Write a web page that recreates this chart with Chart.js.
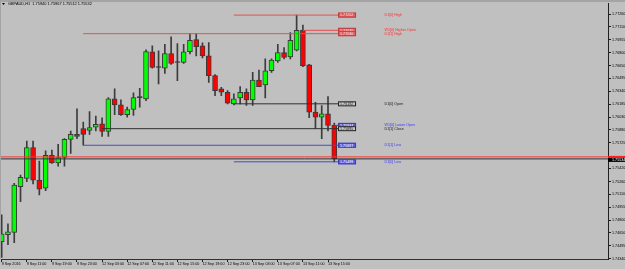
<!DOCTYPE html>
<html><head><meta charset="utf-8">
<script src="https://cdn.jsdelivr.net/npm/chart.js@4"></script>
<style>html,body{margin:0;padding:0;background:#c0c0c0;overflow:hidden}#wrap{width:625px;height:269px}</style>
</head><body><div id="wrap"><canvas id="c" width="625" height="269"></canvas></div>
<script>
// ---------- data ----------
const symbolTitle = "GBPAUD,H1  1.75940 1.75967 1.75512 1.75532";
const timeLabels = ["9 Sep 2016","9 Sep 11:00","9 Sep 19:00","9 Sep 23:00","12 Sep 03:00","12 Sep 07:00","12 Sep 11:00","12 Sep 15:00","12 Sep 19:00","12 Sep 23:00","13 Sep 03:00","13 Sep 07:00","13 Sep 11:00","13 Sep 15:00"];
const priceTicks = [1.77260,1.77110,1.76955,1.76800,1.76650,1.76495,1.76340,1.76185,1.76030,1.75880,1.75725,1.75420,1.75260,1.75110,1.74955,1.74800,1.74650,1.74495,1.74340];
const opens  = [1.74545,1.74629,1.74656,1.75202,1.75302,1.75670,1.75281,1.75183,1.75578,1.75487,1.75551,1.75768,1.75827,1.75895,1.75875,1.75914,1.75954,1.75863,1.76251,1.76180,1.76061,1.76124,1.76267,1.76251,1.76813,1.76626,1.76619,1.76793,1.76686,1.76686,1.76816,1.76959,1.76884,1.76765,1.76528,1.76370,1.76330,1.76192,1.76263,1.76330,1.76239,1.76477,1.76417,1.76587,1.76706,1.76804,1.76753,1.76833,1.77070,1.76658,1.76092,1.76033,1.76073,1.75934];
const highs  = [1.74866,1.74759,1.75242,1.75341,1.75748,1.75748,1.75507,1.75629,1.75638,1.75709,1.75776,1.75867,1.76133,1.75973,1.76100,1.76045,1.76026,1.76267,1.76370,1.76239,1.76152,1.76322,1.76377,1.76836,1.76884,1.76825,1.76904,1.76991,1.76911,1.76904,1.77030,1.77030,1.76920,1.76923,1.76540,1.76389,1.76350,1.76311,1.76397,1.76370,1.76567,1.76595,1.76730,1.76730,1.76904,1.76864,1.77042,1.77252,1.77133,1.76664,1.76211,1.76172,1.76279,1.75962];
const lows   = [1.74356,1.74510,1.74534,1.75024,1.75261,1.75234,1.75103,1.75154,1.75480,1.75448,1.75448,1.75598,1.75776,1.75697,1.75827,1.75867,1.75804,1.75804,1.76061,1.76053,1.76033,1.76053,1.76152,1.76231,1.76619,1.76429,1.76555,1.76664,1.76468,1.76676,1.76789,1.76765,1.76741,1.76448,1.76290,1.76290,1.76190,1.76178,1.76192,1.76172,1.76172,1.76397,1.76263,1.76567,1.76686,1.76730,1.76730,1.76825,1.76635,1.76026,1.75895,1.75776,1.75867,1.75499];
const closes = [1.74640,1.74664,1.75222,1.75313,1.75670,1.75281,1.75171,1.75578,1.75487,1.75551,1.75768,1.75827,1.75804,1.75827,1.75907,1.75946,1.75863,1.76251,1.76180,1.76061,1.76124,1.76267,1.76267,1.76816,1.76626,1.76626,1.76793,1.76674,1.76686,1.76813,1.76952,1.76876,1.76765,1.76528,1.76350,1.76330,1.76199,1.76251,1.76330,1.76239,1.76477,1.76397,1.76587,1.76714,1.76804,1.76745,1.76952,1.77070,1.76646,1.76092,1.76033,1.76073,1.75934,1.75534];
const levelNames    = ["D1[0] High","W1[0] Higher Open","D1[1] High","D1[0] Open","W1[0] Lower Open","D1[1] Close","D1[1] Low","D1[0] Low"];
const levelValues   = [1.77252,1.77070,1.77030,1.76192,1.75934,1.75895,1.75697,1.75499];
const levelStartBar = [37,48,13,37,53,16,13,37];
const bidPrice = 1.75534;
const askPrice = 1.75558;

// ---------- styles ----------
const BG = '#c0c0c0';
const UP = '#00ff00', DOWN = '#ff0000', WICK = '#3c3c3c';
const TINY = '3.7px "Liberation Sans", Arial, sans-serif';
const LINE_END = 53.6, BOX_BAR = 53.6, TEXT_BAR = 61;
function levelColor(name){ return name.includes('High') ? '#e05050' : name.includes('Low') ? '#4848c8' : '#303030'; }
function levelTextColor(name){ return name.includes('High') ? '#ff3030' : name.includes('Low') ? '#3c3cff' : '#202020'; }

const lastBar = opens.length - 1;
const bodyData = opens.map((o,i)=>({x:i, y:[o, closes[i]]}));
const wickData = opens.map((o,i)=>({x:i, y:[lows[i], highs[i]]}));

const datasets = [
  {type:'bar', data:wickData, backgroundColor:WICK, barThickness:1, grouped:false, order:3},
  {type:'bar', data:bodyData, grouped:false, order:2, barThickness:5, minBarLength:1,
   borderWidth:1, borderSkipped:false, borderColor:'#3a3a3a',
   backgroundColor: ctx => { const i = ctx.dataIndex; const o = opens[i], c = closes[i];
     return c > o ? UP : (c < o ? DOWN : '#303030'); }}
];
levelNames.forEach((n,k)=>{
  datasets.push({type:'line', data:[{x:levelStartBar[k], y:levelValues[k]},{x:LINE_END, y:levelValues[k]}],
    borderColor:levelColor(n), borderWidth:1, pointRadius:0, order:1});
});
const XMIN = -0.11, XMAX = 96.62;
datasets.push({type:'line', data:[{x:XMIN,y:askPrice},{x:XMAX,y:askPrice}], borderColor:'#ff3030', borderWidth:1, pointRadius:0, order:0});
datasets.push({type:'line', data:[{x:XMIN,y:bidPrice},{x:XMAX,y:bidPrice}], borderColor:'#303030', borderWidth:1, pointRadius:0, order:0});

const decor = {
  id:'decor',
  beforeDraw(chart){
    const c = chart.ctx; c.save(); c.fillStyle = BG; c.fillRect(0,0,chart.width,chart.height);
    c.fillStyle = '#a4a4a4'; c.fillRect(0,0,chart.width,2); c.fillRect(0,0,1,259);
    c.restore();
  },
  afterDraw(chart){
    const c = chart.ctx, xs = chart.scales.x, ys = chart.scales.y, ca = chart.chartArea;
    c.save();
    c.font = TINY; c.textBaseline = 'middle';
    // level boxes and names
    levelNames.forEach((n,k)=>{
      const y = ys.getPixelForValue(levelValues[k]);
      const bx = xs.getPixelForValue(BOX_BAR);
      const hi = n.includes('High'), lo = n.includes('Low');
      c.fillStyle = hi ? '#e06464' : lo ? '#6262e0' : '#c8c8c8';
      c.strokeStyle = hi ? '#c03c3c' : lo ? '#3c3cc0' : '#202020';
      c.lineWidth = 1;
      c.fillRect(bx, y-2.5, 18, 5); c.strokeRect(bx+0.5, y-2, 17, 4);
      c.fillStyle = hi ? '#ffe0e0' : lo ? '#ffffff' : '#202020';
      c.textAlign = 'left';
      c.fillText(levelValues[k].toFixed(5), bx+2, y+0.3);
      c.fillStyle = levelTextColor(n);
      c.fillText(n, xs.getPixelForValue(TEXT_BAR), y);
    });
    // current price box
    const by = ys.getPixelForValue(bidPrice), ay = ys.getPixelForValue(askPrice);
    c.fillStyle = '#ff2020'; c.fillRect(ca.right, ay-1, chart.width-ca.right, by-ay);
    c.fillStyle = '#000'; c.fillRect(ca.right, by-1, chart.width-ca.right, 4);
    c.fillStyle = '#fff'; c.textAlign = 'left'; c.fillText(bidPrice.toFixed(5), ca.right+4, by+1);
    // title
    c.fillStyle = '#000'; c.beginPath(); c.moveTo(2,3); c.lineTo(5,3); c.lineTo(3.5,5); c.closePath(); c.fill();
    c.font = '3.9px "Liberation Sans", Arial, sans-serif';
    c.fillText(symbolTitle, 8, 4.3);
    c.restore();
  }
};

new Chart(document.getElementById('c'), {
  type:'bar',
  data:{datasets},
  plugins:[decor],
  options:{
    responsive:false, animation:false, devicePixelRatio:1, events:[],
    layout:{padding:{left:1, top:2, right:0, bottom:0}},
    plugins:{legend:{display:false}, tooltip:{enabled:false}},
    scales:{
      x:{type:'linear', min:XMIN, max:XMAX, offset:false,
        afterFit(s){ s.height = 10; },
        afterBuildTicks(s){ s.ticks = timeLabels.map((t,k)=>({value:k*4})); },
        grid:{drawOnChartArea:false, tickLength:3, color:'#202020', offset:false},
        border:{display:true, color:'#303030', width:1},
        ticks:{autoSkip:false, maxRotation:0, minRotation:0, align:'start', padding:0, color:'#000',
          font:{family:'"Liberation Sans", Arial, sans-serif', size:3.7},
          callback:(v,k)=>timeLabels[k]}
      },
      y:{type:'linear', position:'right', min:1.74338, max:1.77394,
        afterFit(s){ s.width = 17; },
        afterBuildTicks(s){ s.ticks = priceTicks.map(v=>({value:v})); },
        grid:{drawOnChartArea:false, tickLength:3, color:'#202020'},
        border:{display:true, color:'#202020', width:1},
        ticks:{padding:1, color:'#000', font:{family:'"Liberation Sans", Arial, sans-serif', size:3.7},
          callback:v=>v.toFixed(5)}
      }
    }
  }
});
</script></body></html>
